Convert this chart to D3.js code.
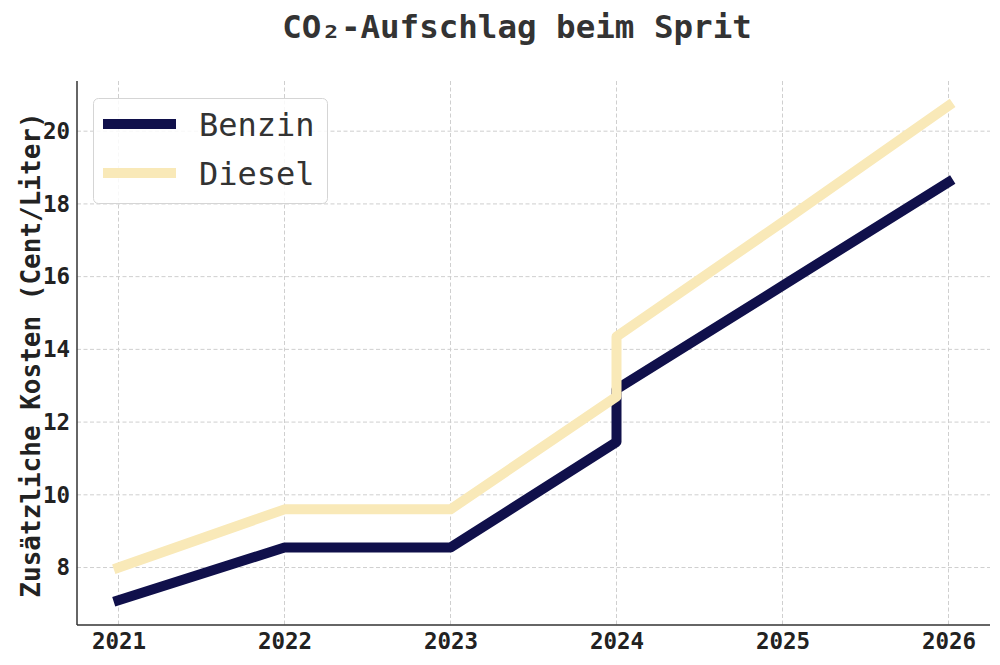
<!DOCTYPE html>
<html>
<head>
<meta charset="utf-8">
<script src="https://cdn.jsdelivr.net/npm/d3@7"></script>
<style>
  body { margin: 0; background: #fff; }
  svg { display: block; }
</style>
</head>
<body>
<svg width="1000" height="665"></svg>
<script>
// values; 2024 appears twice (step at the start of the year)
const years = [2021, 2022, 2023, 2024, 2024, 2025, 2026];
const benzin = [7.1, 8.55, 8.55, 11.45, 12.9, 15.75, 18.6];
const diesel = [8.0, 9.6, 9.6, 12.7, 14.35, 17.5, 20.7];
const xTicks = [2021, 2022, 2023, 2024, 2025, 2026];
const yTicks = [8, 10, 12, 14, 16, 18, 20];
const seriesNames = ['Benzin', 'Diesel'];
const seriesColors = ['#10104b', '#f9e9b8'];

const svg = d3.select('svg');
const plotLeft = 77, plotRight = 990, plotTop = 81, plotBottom = 625;

const x = d3.scaleLinear().domain([2020.75, 2026.25]).range([plotLeft, plotRight]);
const y = d3.scaleLinear().domain([6.42, 21.38]).range([plotBottom, plotTop]);

// title
svg.append('text')
    .attr('x', 517).attr('y', 38)
    .attr('text-anchor', 'middle')
    .style('font', 'bold 32.5px "DejaVu Sans Mono"')
    .style('fill', '#333')
    .text('CO₂-Aufschlag beim Sprit');

// grid
const grid = svg.append('g')
    .style('stroke', '#cfcfcf')
    .style('stroke-width', 1)
    .style('stroke-dasharray', '4,2.5');
grid.selectAll('.gx').data(xTicks).enter().append('line')
    .attr('x1', d => x(d)).attr('x2', d => x(d))
    .attr('y1', plotTop).attr('y2', plotBottom);
grid.selectAll('.gy').data(yTicks).enter().append('line')
    .attr('x1', plotLeft).attr('x2', plotRight)
    .attr('y1', d => y(d)).attr('y2', d => y(d));

// axes
const xAxis = svg.append('g')
    .attr('transform', `translate(0,${plotBottom})`)
    .call(d3.axisBottom(x).tickValues(xTicks).tickFormat(d3.format('d')).tickSize(0).tickPadding(8));
const yAxis = svg.append('g')
    .attr('transform', `translate(${plotLeft},0)`)
    .call(d3.axisLeft(y).tickValues(yTicks).tickSize(0).tickPadding(7));

xAxis.select('.domain').attr('d', `M${plotLeft},0H${plotRight}`);
yAxis.select('.domain').attr('d', `M0,${plotTop}V${plotBottom}`);
[xAxis, yAxis].forEach(a => {
  a.select('.domain').style('stroke', '#333').style('stroke-width', 1.5);
  a.selectAll('text')
      .style('font', 'bold 22.5px "DejaVu Sans Mono"')
      .style('fill', '#222');
});
xAxis.selectAll('text').attr('dy', '0.71em');

// y label
svg.append('text')
    .attr('transform', 'translate(31,355) rotate(-90)')
    .attr('text-anchor', 'middle')
    .attr('dy', '0.35em')
    .style('font', 'bold 26px "DejaVu Sans Mono"')
    .style('fill', '#222')
    .text('Zusätzliche Kosten (Cent/Liter)');

// lines
const line = d3.line().x((d, i) => x(years[i])).y(d => y(d));
[benzin, diesel].forEach((s, k) => {
  svg.append('path')
      .datum(s)
      .attr('d', line)
      .style('fill', 'none')
      .style('stroke', seriesColors[k])
      .style('stroke-width', 10)
      .style('stroke-linecap', 'square')
      .style('stroke-linejoin', 'round');
});

// legend
const legend = svg.append('g');
legend.append('rect')
    .attr('x', 93.5).attr('y', 98.5)
    .attr('width', 234).attr('height', 105)
    .attr('rx', 5)
    .style('fill', 'rgba(255,255,255,0.85)')
    .style('stroke', '#d5d5d5');
seriesNames.forEach((n, i) => {
  const cy = 124 + i * 49;
  legend.append('line')
      .attr('x1', 103).attr('x2', 176)
      .attr('y1', cy).attr('y2', cy)
      .style('stroke', seriesColors[i])
      .style('stroke-width', 10);
  legend.append('text')
      .attr('x', 199).attr('y', cy + 12)
      .style('font', '32px "DejaVu Sans Mono"')
      .style('fill', '#333')
      .text(n);
});
</script>
</body>
</html>
